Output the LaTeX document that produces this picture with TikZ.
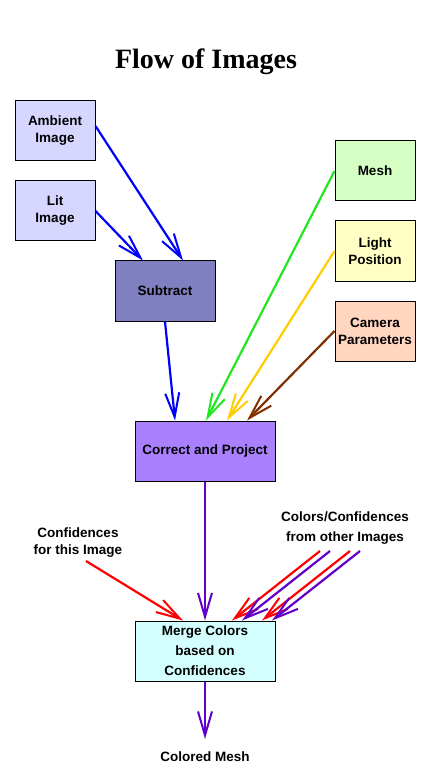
\documentclass[tikz,border=0pt]{standalone}
\usepackage{fontspec}
\setmainfont{Liberation Sans}
\newfontfamily\titlefont{Liberation Serif}
\usetikzlibrary{arrows.meta}
\definecolor{cAmb}{RGB}{214,214,255}
\definecolor{cSub}{RGB}{128,128,192}
\definecolor{cMesh}{RGB}{214,255,196}
\definecolor{cLight}{RGB}{255,255,196}
\definecolor{cCam}{RGB}{255,214,192}
\definecolor{cCorr}{RGB}{170,128,255}
\definecolor{cMerge}{RGB}{212,255,255}
\definecolor{aBlue}{RGB}{0,0,255}
\definecolor{aGreen}{RGB}{32,232,32}
\definecolor{aGold}{RGB}{255,204,0}
\definecolor{aBrown}{RGB}{128,48,0}
\definecolor{aPurple}{RGB}{96,0,200}
\definecolor{aRed}{RGB}{255,0,0}
\tikzset{
  box/.style={draw=black, line width=1pt, minimum width=80pt, minimum height=60pt,
    inner sep=0pt, align=center, font=\fontsize{13.5}{17}\selectfont\bfseries},
  wide/.style={box, minimum width=100pt},
  wider/.style={box, minimum width=140pt},
  lbl/.style={align=center, inner sep=0pt, font=\fontsize{13.5}{17}\selectfont\bfseries},
  flow/.style={line width=2.2pt, -{Straight Barb[length=24pt,width=14pt,line width=2pt]}},
}
\begin{document}
\begin{tikzpicture}[x=1pt,y=-1pt]
\useasboundingbox (0,0) rectangle (446,775);
\node[font=\fontsize{28}{32}\selectfont\bfseries\titlefont] (title) at (206,62) {Flow of Images};

\node[box, fill=cAmb] (amb) at (55,131) {Ambient\\Image};
\node[box, fill=cAmb] (lit) at (55,211) {Lit\\Image};
\node[wide, fill=cSub] (sub) at (165,291) {Subtract};
\node[box, fill=cMesh] (mesh) at (375,171) {Mesh};
\node[box, fill=cLight] (light) at (375,251) {Light\\Position};
\node[box, fill=cCam] (cam) at (375,331) {Camera\\Parameters};
\node[wider, fill=cCorr] (corr) at (205,451) {Correct and Project};
\node[wider, fill=cMerge, font=\fontsize{13.5}{20}\selectfont\bfseries] (merge) at (205,651) {Merge Colors\\based on\\Confidences};
\node[lbl] (cm) at (205,757) {Colored Mesh};
\node[lbl] (conf) at (78,543) {Confidences\\for this Image};
\node[lbl, font=\fontsize{13.5}{20}\selectfont\bfseries] (oth) at (345,528) {Colors/Confidences\\from other Images};

\coordinate (cmtop) at (205,739);
\coordinate (cs) at (86,561);
\coordinate (o1) at (320,551);
\coordinate (o2) at (330,551);
\coordinate (o3) at (350,551);
\coordinate (o4) at (360,551);

\draw[flow, aBlue] ([yshift=5pt]amb.east) -- ([xshift=18pt]sub.north);
\draw[flow, aBlue] (lit.east) -- ([xshift=-22pt]sub.north);
\draw[flow, aBlue] (sub.south) -- ([xshift=-30pt]corr.north);
\draw[flow, aGreen] (mesh.west) -- ([xshift=1pt]corr.north);
\draw[flow, aGold] (light.west) -- ([xshift=22pt]corr.north);
\draw[flow, aBrown] (cam.west) -- ([xshift=42pt]corr.north);
\draw[flow, aPurple] (corr.south) -- (merge.north);
\draw[flow, aPurple] (merge.south) -- (cmtop);
\draw[flow, aRed] (cs) -- ([xshift=-22pt]merge.north);
\draw[flow, aRed] (o1) -- ([xshift=27pt]merge.north);
\draw[flow, aPurple] (o2) -- ([xshift=37pt]merge.north);
\draw[flow, aRed] (o3) -- ([xshift=57pt]merge.north);
\draw[flow, aPurple] (o4) -- ([xshift=67pt]merge.north);
\end{tikzpicture}
\end{document}
